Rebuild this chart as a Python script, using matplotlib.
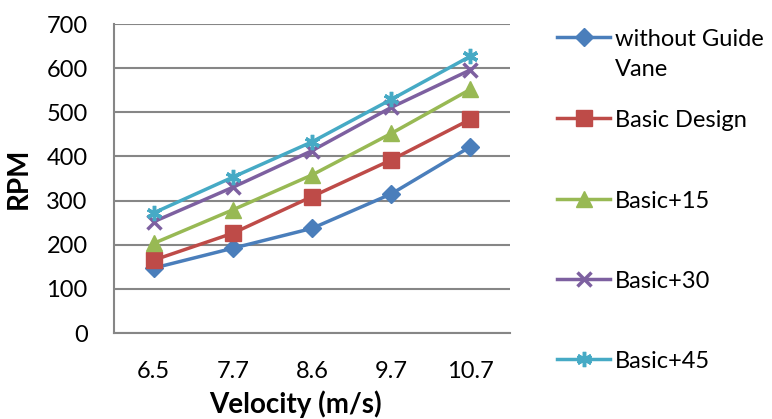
import matplotlib
matplotlib.use("Agg")
import matplotlib.pyplot as plt
from matplotlib.lines import Line2D

plt.rcParams['font.family'] = ['Lato', 'DejaVu Sans']

velocity = ['6.5', '7.7', '8.6', '9.7', '10.7']
without_guide = [147, 192, 237, 315, 422]
basic_design = [165, 226, 309, 392, 484]
basic_15 = [203, 279, 358, 452, 552]
basic_30 = [252, 330, 413, 511, 596]
basic_45 = [272, 353, 433, 529, 627]

series = [
    ('without Guide\nVane', without_guide, '#4A7EBB', 'D', 9),
    ('Basic Design', basic_design, '#BE4B48', 's', 11),
    ('Basic+15', basic_15, '#98B954', '^', 11),
    ('Basic+30', basic_30, '#7D60A0', 'x', 10),
    ('Basic+45', basic_45, '#46AAC5', (6, 2, 0), 11),
]

fig = plt.figure(figsize=(7.72, 4.19), dpi=100)
ax = fig.add_axes([114 / 772, 1 - 333 / 419, 396 / 772, 309 / 419])

x = range(len(velocity))
for name, vals, color, marker, ms in series:
    ax.plot(x, vals, color=color, lw=2.5, marker=marker, markersize=ms,
            markeredgewidth=2.5 if marker in ('x', (6, 2, 0)) else 1,
            markeredgecolor=color, zorder=3)

ax.set_xlim(-0.5, 4.5)
ax.set_ylim(0, 700)
ax.set_yticks(range(0, 701, 100))
ax.set_xticks(list(x))
ax.set_xticklabels(velocity)
ax.tick_params(length=0, labelsize=17, labelcolor='black')
ax.tick_params(axis='y', pad=19)
ax.tick_params(axis='x', pad=20)
ax.grid(axis='y', color='#868686', lw=1.5)
ax.set_axisbelow(True)
for s in ['top', 'right']:
    ax.spines[s].set_visible(False)
for s in ['left', 'bottom']:
    ax.spines[s].set_color('#868686')
    ax.spines[s].set_linewidth(1.5)

ax.set_xlabel('Velocity (m/s)', fontsize=20, fontweight='bold', va='center')
ax.xaxis.set_label_coords(0.457, -0.232)
ax.set_ylabel('RPM', fontsize=20, fontweight='bold', va='center')
ax.yaxis.set_label_coords(-0.24, 0.5)

# legend drawn by hand so the two-line label lines up like the original
legend_y = [37, 118, 199, 279, 359]
for (name, vals, color, marker, ms), ly in zip(series, legend_y):
    fy = 1 - ly / 419
    fig.add_artist(Line2D([557 / 772, 610 / 772], [fy, fy], color=color, lw=2.5,
                          transform=fig.transFigure))
    fig.add_artist(Line2D([583.5 / 772], [fy], color=color, marker=marker, markersize=ms,
                          markeredgewidth=2.5 if marker in ('x', (6, 2, 0)) else 1,
                          markeredgecolor=color, transform=fig.transFigure))
    fig.text(615 / 772, fy + 0.019, name, fontsize=17, va='top', ha='left',
             linespacing=1.55)

fig.savefig('out.png', dpi=100)
